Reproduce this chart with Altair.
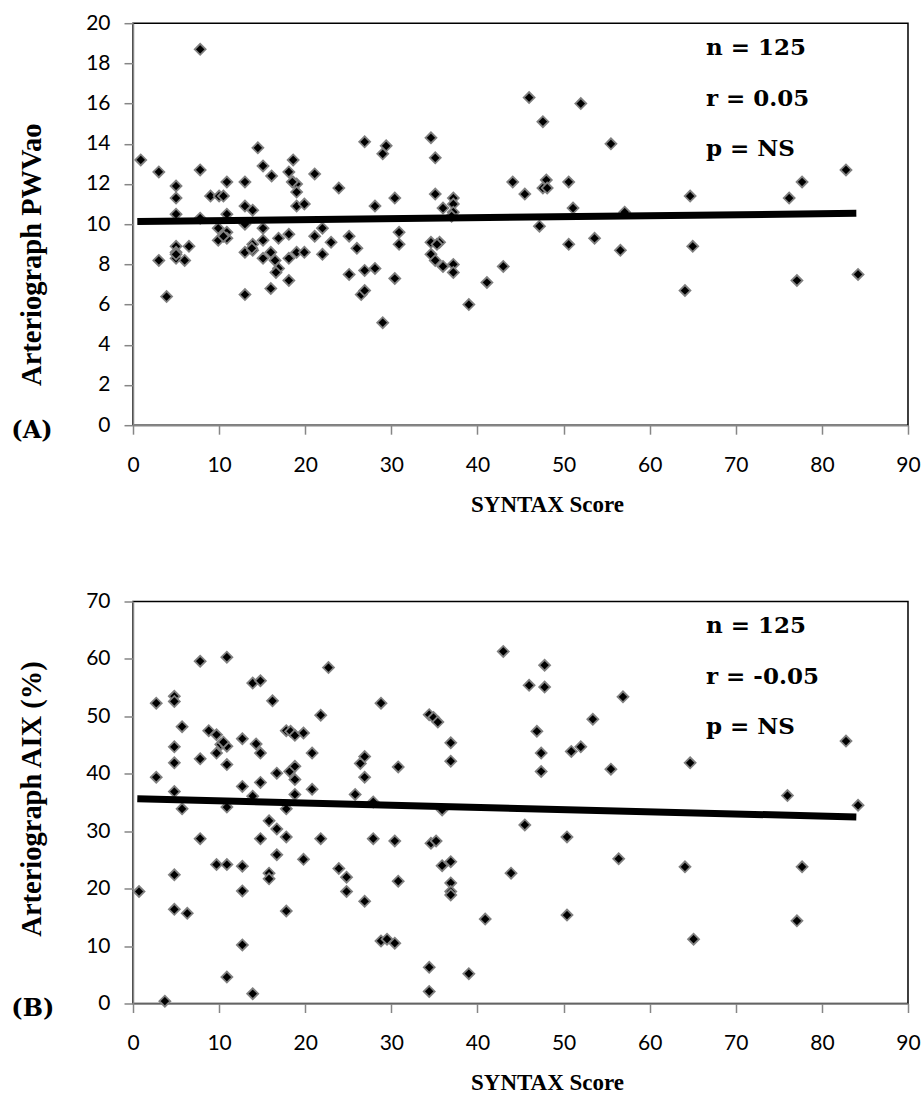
import altair as alt
import pandas as pd

# Panel A: SYNTAX score vs Arteriograph PWVao
syntax_a = [
    7.8, 0.9, 3.0, 7.8, 5.0, 5.0, 5.0, 7.8, 3.0, 3.9,
    5.0, 5.0, 5.0, 6.5, 6.0, 9.0, 10.0, 10.5, 10.9, 10.9,
    9.9, 9.9, 10.9, 10.9, 13.0, 13.0, 13.9, 13.0, 13.0, 13.9,
    13.9, 13.0, 14.5, 15.1, 16.1, 15.1, 15.1, 15.1, 16.0, 16.5,
    16.9, 16.0, 16.9, 18.1, 18.1, 18.1, 18.6, 18.1, 18.6, 19.0,
    19.0, 19.0, 19.9, 19.0, 19.9, 21.1, 22.0, 21.1, 22.0, 23.0,
    23.9, 25.1, 26.0, 25.1, 26.9, 28.1, 26.5, 26.9, 26.9, 29.4,
    29.0, 28.1, 29.0, 30.4, 30.9, 30.9, 30.4,
    34.6, 35.1, 35.1, 37.2, 36.0, 37.2, 37.2, 34.6, 35.6, 34.6,
    35.1, 36.0, 37.2, 37.2, 39.0, 41.1, 43.0, 44.1, 45.5, 46.0,
    47.6, 47.2, 48.0, 47.6, 48.1, 50.6, 51.1, 50.6, 52.0, 53.6,
    55.5, 56.6, 57.1, 64.7, 65.0, 64.1, 76.2, 77.7, 77.1, 82.8,
    84.2,
    10.5, 16.6, 13.8, 35.3, 37.0, 18.5, 5.0,
]
pwv = [
    18.7, 13.2, 12.6, 12.7, 11.9, 11.3, 10.5, 10.3, 8.2, 6.4,
    8.9, 8.6, 8.3, 8.9, 8.2, 11.4, 11.4, 11.4, 12.1, 10.5,
    9.8, 9.2, 9.6, 9.3, 12.1, 10.9, 10.7, 10.0, 8.6, 9.0,
    8.7, 6.5, 13.8, 12.9, 12.4, 9.8, 9.2, 8.3, 8.6, 8.2,
    7.8, 6.8, 9.3, 9.5, 8.3, 7.2, 13.2, 12.6, 12.1, 12.0,
    11.6, 10.9, 11.0, 8.6, 8.6, 12.5, 9.8, 9.4, 8.5, 9.1,
    11.8, 9.4, 8.8, 7.5, 7.7, 7.8, 6.5, 6.7, 14.1, 13.9,
    13.5, 10.9, 5.1, 11.3, 9.6, 9.0, 7.3,
    14.3, 13.3, 11.5, 11.3, 10.8, 11.0, 10.6, 9.1, 9.1, 8.5,
    8.2, 7.9, 8.0, 7.6, 6.0, 7.1, 7.9, 12.1, 11.5, 16.3,
    15.1, 9.9, 12.2, 11.8, 11.8, 12.1, 10.8, 9.0, 16.0, 9.3,
    14.0, 8.7, 10.6, 11.4, 8.9, 6.7, 11.3, 12.1, 7.2, 12.7,
    7.5,
    9.4, 7.6, 8.8, 9.0, 10.4, 12.1, 8.5,
]

# Panel B: SYNTAX score vs Arteriograph AIX (%)
syntax_b = [
    0.7, 2.7, 2.7, 3.7, 4.8, 4.8, 4.8, 4.8, 4.8, 4.8,
    4.8, 5.7, 5.7, 6.3, 7.8, 7.8, 7.8, 8.8, 9.7, 10.2,
    9.7, 10.9, 10.9, 10.9, 10.9, 9.7, 10.9, 10.9, 12.7, 12.7,
    12.7, 12.7, 12.7, 13.9, 14.8, 13.9, 14.3, 14.8, 14.8, 14.8,
    13.9, 16.2, 16.7, 15.8, 16.7, 16.7, 15.8, 15.8, 17.8, 18.3,
    18.8, 19.8, 18.2, 18.8, 18.8, 18.8, 17.8, 17.8, 17.8, 19.8,
    20.8, 20.8, 21.8, 21.8, 22.7, 23.9, 24.8, 24.8, 25.8, 26.4,
    26.9, 26.9, 26.9, 27.9, 27.9, 28.8, 28.8, 29.5, 30.4, 30.8,
    30.4, 30.8, 34.4, 34.9, 35.4, 36.9, 36.9, 35.9, 34.6, 35.2,
    35.9, 36.9, 36.9, 36.9, 36.9, 34.4, 34.4, 39.0, 40.9, 43.0,
    43.9, 45.5, 46.0, 46.9, 47.4, 47.4, 47.8, 47.8, 50.4, 50.4,
    50.9, 52.0, 53.4, 55.5, 56.4, 56.9, 64.7, 64.1, 65.1, 76.0,
    77.7, 77.1, 82.8, 84.2, 10.5,
]
aix = [
    19.5, 52.3, 39.4, 0.4, 53.5, 52.6, 44.7, 41.9, 36.9, 22.4,
    16.4, 48.2, 33.9, 15.7, 59.6, 42.6, 28.7, 47.5, 46.8, 45.1,
    43.6, 44.8, 41.6, 60.3, 34.2, 24.2, 24.2, 4.6, 46.1, 37.8,
    23.9, 19.6, 10.2, 55.8, 56.2, 36.1, 45.2, 43.6, 38.5, 28.7,
    1.7, 52.7, 40.1, 31.8, 30.4, 25.9, 22.7, 21.7, 47.5, 47.4,
    46.7, 47.1, 40.4, 41.3, 39.0, 36.4, 33.9, 29.0, 16.1, 25.1,
    43.6, 37.3, 50.2, 28.7, 58.5, 23.5, 22.0, 19.5, 36.4, 41.8,
    43.0, 39.4, 17.8, 35.1, 28.7, 52.3, 10.9, 11.2, 10.5, 41.2,
    28.3, 21.3, 50.3, 49.8, 49.0, 45.4, 42.2, 33.7, 27.9, 28.3,
    24.0, 24.7, 21.0, 19.5, 18.9, 6.3, 2.1, 5.2, 14.7, 61.3,
    22.7, 31.1, 55.4, 47.4, 43.6, 40.4, 58.9, 55.1, 29.0, 15.4,
    43.9, 44.7, 49.5, 40.8, 25.2, 53.4, 41.9, 23.8, 11.2, 36.2,
    23.8, 14.4, 45.7, 34.5, 45.5,
]

# Linear trend lines (end points)
trend_x = [0.5, 84.0]
trend_pwv = [10.13, 10.54]
trend_aix = [35.66, 32.47]

stats_a = ["n = 125", "r = 0.05", "p = NS"]
stats_b = ["n = 125", "r = -0.05", "p = NS"]

W, H = 775, 402
SERIF = "DejaVu Serif"


def panel(xs, ys, tx, ty, ymax, ystep, ytitle, ytitle_y, stats, tag):
    pts = pd.DataFrame({"score": xs, "value": ys})
    trend = pd.DataFrame({"score": tx, "value": ty})

    x = alt.X(
        "score:Q",
        scale=alt.Scale(domain=[0, 90], nice=False, zero=False),
        axis=alt.Axis(
            values=list(range(0, 91, 10)),
            title="SYNTAX Score",
            titleX=414,
            titleY=86,
            titleBaseline="alphabetic",
            titleAlign="center",
            titleFont="Liberation Serif",
            titleFontSize=23,
            titleFontWeight="bold",
        ),
    )
    y = alt.Y(
        "value:Q",
        scale=alt.Scale(domain=[0, ymax], nice=False),
        axis=alt.Axis(
            values=list(range(0, ymax + 1, ystep)),
            title=ytitle,
            titleAngle=270,
            titleX=-101.7,
            titleY=ytitle_y,
            titleBaseline="middle",
            titleAlign="center",
            titleFont="Liberation Serif",
            titleFontSize=28.5,
            titleFontWeight="bold",
        ),
    )

    points = alt.Chart(pts).mark_point(
        shape="diamond", filled=True, fill="black", stroke="#808080",
        strokeWidth=1.8, size=120, opacity=1,
    ).encode(x=x, y=y)

    line = alt.Chart(trend).mark_line(
        color="black", strokeWidth=7, strokeCap="butt"
    ).encode(x="score:Q", y="value:Q")

    stat_text = alt.Chart(pd.DataFrame({"t": ["\n".join(stats)]})).mark_text(
        align="left", baseline="alphabetic", lineBreak="\n", lineHeight=50.5,
        font=SERIF, fontSize=23, fontWeight="bold", color="black",
    ).encode(x=alt.value(573), y=alt.value(32), text="t:N")

    tag_text = alt.Chart(pd.DataFrame({"t": [tag]})).mark_text(
        align="left", baseline="alphabetic",
        font=SERIF, fontSize=24, fontWeight="bold", color="black",
    ).encode(x=alt.value(-121.7), y=alt.value(415), text="t:N")

    return alt.layer(points, line, stat_text, tag_text).properties(width=W, height=H)


top = panel(syntax_a, pwv, trend_x, trend_pwv, 20, 2,
            "Arteriograph PWVao", 231, stats_a, "(A)")
bottom = panel(syntax_b, aix, trend_x, trend_aix, 70, 10,
               "Arteriograph AIX (%)", 197, stats_b, "(B)")

chart = (
    alt.vconcat(top, bottom, spacing=176.3, bounds="flush")
    .properties(padding={"left": 10, "top": 11.2, "right": 0, "bottom": 0})
    .configure_view(stroke="black", strokeWidth=1.5)
    .configure_axis(
        grid=False,
        labelFont="Lato",
        labelFontSize=21,
        labelColor="black",
        tickSize=9,
        tickColor="#868686",
        tickWidth=1.5,
        domainColor="#868686",
        domainWidth=1.5,
        labelOverlap=False,
        titleColor="black",
    )
    .configure_axisX(labelPadding=20, labelFlush=False)
    .configure_axisY(labelPadding=14)
)

chart.save("out.html", embed_options={"renderer": "svg", "actions": False})
